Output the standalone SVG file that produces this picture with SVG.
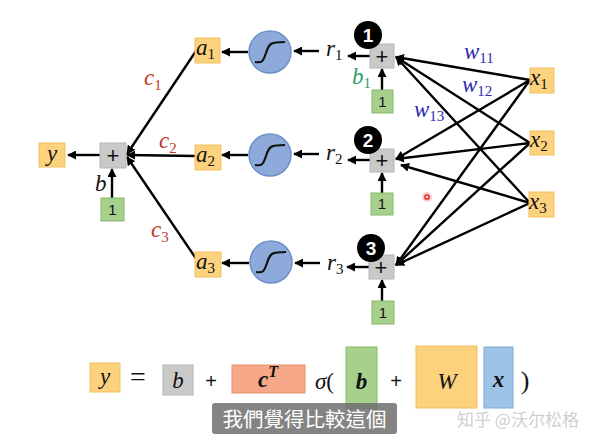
<svg xmlns="http://www.w3.org/2000/svg" width="600" height="442" viewBox="0 0 600 442">
<style>
.m{font-family:"Liberation Serif","DejaVu Serif",serif;font-style:italic;font-size:23px;fill:#111}
.sub{font-size:15px;font-style:normal}
.red{fill:#c0392b}
.blue{fill:#2b2bb0}
.teal{fill:#2e9e70}
.yel{fill:#fdd27f;stroke:#f2c060;stroke-width:1}
.gray{fill:#c9c9c9;stroke:#b5b5b5;stroke-width:1}
.grn{fill:#a8d08d;stroke:#88b76b;stroke-width:1}
.sig{fill:#8eaadb;stroke:#6f8fc8;stroke-width:1.5}
.sc{fill:none;stroke:#111;stroke-width:2.2}
.plus{font-family:"Liberation Sans","DejaVu Sans",sans-serif;font-size:22px;fill:#111;text-anchor:middle}
.one{font-family:"Liberation Sans","DejaVu Sans",sans-serif;font-size:15px;fill:#111;text-anchor:middle}
.num{font-family:"Liberation Sans","DejaVu Sans",sans-serif;font-size:19px;font-weight:bold;fill:#fff;text-anchor:middle}
.ln{stroke:#000;stroke-width:2.4;fill:none;marker-end:url(#ah)}
</style>
<defs>
<marker id="ah" viewBox="0 0 10 10" refX="9" refY="5" markerWidth="9" markerHeight="9" markerUnits="userSpaceOnUse" orient="auto">
<path d="M0,0 L10,5 L0,10 z" fill="#000"/>
</marker>
</defs>
<rect width="600" height="442" fill="#fff"/>

<g id="connectors">
<line class="ln" x1="100" y1="155" x2="68" y2="155"/>
<line class="ln" x1="112" y1="198" x2="112" y2="169"/>
<line class="ln" x1="196" y1="51" x2="127" y2="154"/>
<line class="ln" x1="195" y1="156" x2="127" y2="155"/>
<line class="ln" x1="197" y1="260" x2="127" y2="157"/>
<line class="ln" x1="248" y1="52" x2="222" y2="52"/>
<line class="ln" x1="248" y1="155" x2="222" y2="155"/>
<line class="ln" x1="249" y1="263" x2="222" y2="263"/>
<line class="ln" x1="319" y1="51" x2="294" y2="51"/>
<line class="ln" x1="319" y1="154" x2="294" y2="154"/>
<line class="ln" x1="320" y1="263" x2="295" y2="263"/>
<line class="ln" x1="370" y1="56" x2="348" y2="56"/>
<line class="ln" x1="370" y1="160" x2="348" y2="160"/>
<line class="ln" x1="369" y1="267" x2="347" y2="267"/>
<line class="ln" x1="382" y1="90" x2="382" y2="69"/>
<line class="ln" x1="382" y1="193" x2="382" y2="173"/>
<line class="ln" x1="382" y1="301" x2="382" y2="280"/>
<line class="ln" x1="530" y1="80" x2="396" y2="57"/>
<line class="ln" x1="530" y1="143" x2="396" y2="57"/>
<line class="ln" x1="530" y1="203" x2="396" y2="57"/>
<line class="ln" x1="530" y1="80" x2="396" y2="159"/>
<line class="ln" x1="530" y1="143" x2="396" y2="159"/>
<line class="ln" x1="530" y1="203" x2="401" y2="165"/>
<line class="ln" x1="530" y1="80" x2="396" y2="265"/>
<line class="ln" x1="530" y1="143" x2="396" y2="265"/>
<line class="ln" x1="530" y1="203" x2="396" y2="265"/>
</g>

<g id="y">
<rect class="yel" x="39" y="143" width="26" height="24"/>
<text class="m" x="52" y="161" text-anchor="middle">y</text>
</g>
<g id="sumOut">
<rect class="gray" x="100" y="143" width="26" height="25"/>
<text class="plus" x="113" y="163">+</text>
</g>
<g id="oneOut">
<rect class="grn" x="101" y="198" width="23" height="23"/>
<text class="one" x="112.5" y="215">1</text>
</g>
<g id="labelsLeft">
<text class="m" x="95" y="191">b</text>
<text class="m red" x="144" y="85">c<tspan class="sub" dy="5">1</tspan></text>
<text class="m red" x="159" y="148">c<tspan class="sub" dy="5">2</tspan></text>
<text class="m red" x="151" y="237">c<tspan class="sub" dy="5">3</tspan></text>
</g>

<g id="a1">
<rect class="yel" x="195" y="38" width="25" height="25"/>
<text class="m" x="196" y="55">a<tspan class="sub" dy="4">1</tspan></text>
</g>
<g id="a2">
<rect class="yel" x="195" y="145" width="26" height="25"/>
<text class="m" x="196" y="162">a<tspan class="sub" dy="4">2</tspan></text>
</g>
<g id="a3">
<rect class="yel" x="195" y="252" width="26" height="25"/>
<text class="m" x="196" y="269">a<tspan class="sub" dy="4">3</tspan></text>
</g>

<g id="sig1">
<circle class="sig" cx="270" cy="52" r="21"/>
<path class="sc" d="M255,62 C262,63 263,62 266,53 C269,43 271,42 285,42"/>
</g>
<g id="sig2">
<circle class="sig" cx="270" cy="155" r="21"/>
<path class="sc" d="M255,165 C262,166 263,165 266,156 C269,146 271,145 285,145"/>
</g>
<g id="sig3">
<circle class="sig" cx="271" cy="262" r="21"/>
<path class="sc" d="M256,272 C263,273 264,272 267,263 C270,253 272,252 286,252"/>
</g>

<g id="r">
<text class="m" x="326" y="56">r<tspan class="sub" dy="4">1</tspan></text>
<text class="m" x="326" y="160">r<tspan class="sub" dy="4">2</tspan></text>
<text class="m" x="327" y="270">r<tspan class="sub" dy="4">3</tspan></text>
</g>

<g id="sum1">
<rect class="gray" x="370" y="44" width="24" height="24"/>
<text class="plus" x="382" y="64">+</text>
<circle cx="368" cy="35" r="14" fill="#000"/>
<text class="num" x="368" y="42">1</text>
</g>
<g id="one1">
<rect class="grn" x="372" y="90" width="21" height="23"/>
<text class="one" x="382.5" y="107">1</text>
</g>
<g id="sum2">
<rect class="gray" x="370" y="149" width="24" height="23"/>
<text class="plus" x="382" y="168">+</text>
<circle cx="368" cy="140" r="14" fill="#000"/>
<text class="num" x="368" y="147">2</text>
</g>
<g id="one2">
<rect class="grn" x="371" y="193" width="22" height="22"/>
<text class="one" x="382" y="209">1</text>
</g>
<g id="sum3">
<rect class="gray" x="369" y="255" width="25" height="24"/>
<text class="plus" x="381" y="275">+</text>
<circle cx="371" cy="248" r="14" fill="#000"/>
<text class="num" x="371" y="255">3</text>
</g>
<g id="one3">
<rect class="grn" x="372" y="301" width="22" height="23"/>
<text class="one" x="383" y="318">1</text>
</g>
<g id="labelsRight">
<text class="m teal" x="352" y="84">b<tspan class="sub" dy="4">1</tspan></text>
<text class="m blue" x="464" y="59">w<tspan class="sub" dy="4">11</tspan></text>
<text class="m blue" x="462" y="92">w<tspan class="sub" dy="4">12</tspan></text>
<text class="m blue" x="414" y="117">w<tspan class="sub" dy="4">13</tspan></text>
</g>

<g id="x1">
<rect class="yel" x="530" y="68" width="24" height="25"/>
<text class="m" x="530" y="85">x<tspan class="sub" dy="4">1</tspan></text>
</g>
<g id="x2">
<rect class="yel" x="530" y="131" width="24" height="24"/>
<text class="m" x="530" y="147">x<tspan class="sub" dy="4">2</tspan></text>
</g>
<g id="x3">
<rect class="yel" x="529" y="192" width="25" height="25"/>
<text class="m" x="529" y="209">x<tspan class="sub" dy="4">3</tspan></text>
</g>

<g id="pointer">
<circle cx="427" cy="197" r="5" fill="#f5a0a0" opacity="0.5"/>
<circle cx="427" cy="197" r="2.2" fill="none" stroke="#e02020" stroke-width="1.3"/>
</g>

<g id="formula">
<rect class="yel" x="90" y="363" width="30" height="29"/>
<text class="m" x="105" y="384" text-anchor="middle" font-size="26">y</text>
<text x="138" y="386" font-family="Liberation Serif,serif" font-size="28" text-anchor="middle" fill="#111">=</text>
<rect class="gray" x="163" y="365" width="30" height="30"/>
<text class="m" x="178" y="388" text-anchor="middle" font-size="26">b</text>
<text x="211" y="388" font-family="Liberation Sans,sans-serif" font-size="20" text-anchor="middle" fill="#111">+</text>
<rect x="232" y="365" width="73" height="28" fill="#f6a888" stroke="#e8906c" stroke-width="1"/>
<text class="m" x="268" y="387" text-anchor="middle" font-size="26" font-weight="bold">c<tspan font-size="16" dy="-10">T</tspan></text>
<text class="m" x="315" y="389" font-size="26">σ<tspan font-style="normal">(</tspan></text>
<rect x="346" y="347" width="31" height="62" fill="#a8d08d" stroke="#88b76b" stroke-width="1"/>
<text class="m" x="361.5" y="389" text-anchor="middle" font-size="27" font-weight="bold">b</text>
<text x="396" y="388" font-family="Liberation Sans,sans-serif" font-size="20" text-anchor="middle" fill="#111">+</text>
<rect class="yel" x="416" y="346" width="61" height="62"/>
<text class="m" x="447" y="389" text-anchor="middle" font-size="26">W</text>
<rect x="484" y="347" width="29" height="61" fill="#9dc3e6" stroke="#7fa9d6" stroke-width="1"/>
<text class="m" x="498.5" y="387" text-anchor="middle" font-size="27" font-weight="bold">x</text>
<text x="525" y="389" font-family="Liberation Serif,serif" font-size="26" text-anchor="middle" fill="#111">)</text>
</g>

<g id="subtitle">
<rect x="212" y="403" width="185" height="31" rx="3" fill="#6e6e6e" opacity="0.85"/>
<text x="304.5" y="427" font-family="Noto Sans CJK TC,Noto Sans CJK SC,sans-serif" font-size="20.5" fill="#fff" text-anchor="middle">我們覺得比較這個</text>
</g>
<g id="watermark">
<text x="457" y="426" font-family="Noto Sans CJK SC,sans-serif" font-size="17" fill="#cfcfcf">知乎 @沃尔松格</text>
</g>
</svg>
